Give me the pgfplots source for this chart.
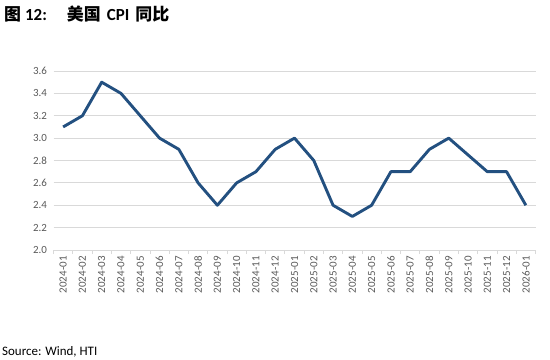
\documentclass[border=0pt]{standalone}
\usepackage{pgfplots}
\pgfplotsset{compat=1.18}
\usepackage{fontspec}
\setmainfont{Carlito}
\newfontfamily\cjk{Noto Sans CJK SC}
\definecolor{linec}{RGB}{35,80,128}
\definecolor{gridc}{RGB}{217,217,217}
\definecolor{tickc}{RGB}{89,89,89}
\begin{document}
\begin{tikzpicture}
\path[use as bounding box] (0bp,0bp) rectangle (550bp,-360bp);
\node[anchor=west,inner sep=0pt,font=\fontsize{17}{19}\selectfont\bfseries] at (4bp,-14bp) {{\cjk 图}\hspace{4bp}12:\hspace{20bp}{\cjk 美国}\hspace{6bp}CPI\hspace{6bp}{\cjk 同比}};
\node[anchor=west,inner sep=0pt,font=\fontsize{13}{15}\selectfont] at (2bp,-352bp) {Source: Wind, HTI};
\begin{axis}[
  at={(53.5bp,-250bp)}, anchor=south west,
  scale only axis, width=482bp, height=179bp,
  xmin=-0.5, xmax=24.5, ymin=2.0, ymax=3.6,
  ytick={2.0,2.2,...,3.6},
  yticklabel style={/pgf/number format/fixed,/pgf/number format/fixed zerofill,/pgf/number format/precision=1},
  /pgf/number format/assume math mode=true,
  xtick={0,...,24},
  xticklabels={2024-01,2024-02,2024-03,2024-04,2024-05,2024-06,2024-07,2024-08,2024-09,2024-10,2024-11,2024-12,2025-01,2025-02,2025-03,2025-04,2025-05,2025-06,2025-07,2025-08,2025-09,2025-10,2025-11,2025-12,2026-01},
  minor xtick={-0.5,0.5,...,24.5},
  x tick label style={rotate=90,anchor=east,font=\fontsize{11}{13}\selectfont,text=tickc,inner sep=2pt},
  y tick label style={font=\fontsize{11}{13}\selectfont,text=tickc,inner sep=2pt},
  xtick pos=bottom, ytick pos=left,
  major x tick style={draw=none},
  minor x tick style={draw=gridc,line width=0.8bp},
  minor tick length=4bp,
  tick align=outside,
  major y tick style={draw=none},
  ymajorgrids, grid style={gridc,line width=0.8bp},
  axis line style={draw=none},
  axis x line*=bottom,
  x axis line style={draw=gridc,line width=0.8bp},
  axis y line*=left,
  y axis line style={draw=none},
  clip=false,
]
\addplot[linec,line width=2.9bp,line join=round] coordinates {
(0,3.1)(1,3.2)(2,3.5)(3,3.4)(4,3.2)(5,3.0)(6,2.9)(7,2.6)(8,2.4)(9,2.6)(10,2.7)(11,2.9)
(12,3.0)(13,2.8)(14,2.4)(15,2.3)(16,2.4)(17,2.7)(18,2.7)(19,2.9)(20,3.0)(21,2.85)(22,2.7)(23,2.7)(24,2.4)};
\end{axis}
\end{tikzpicture}
\end{document}
